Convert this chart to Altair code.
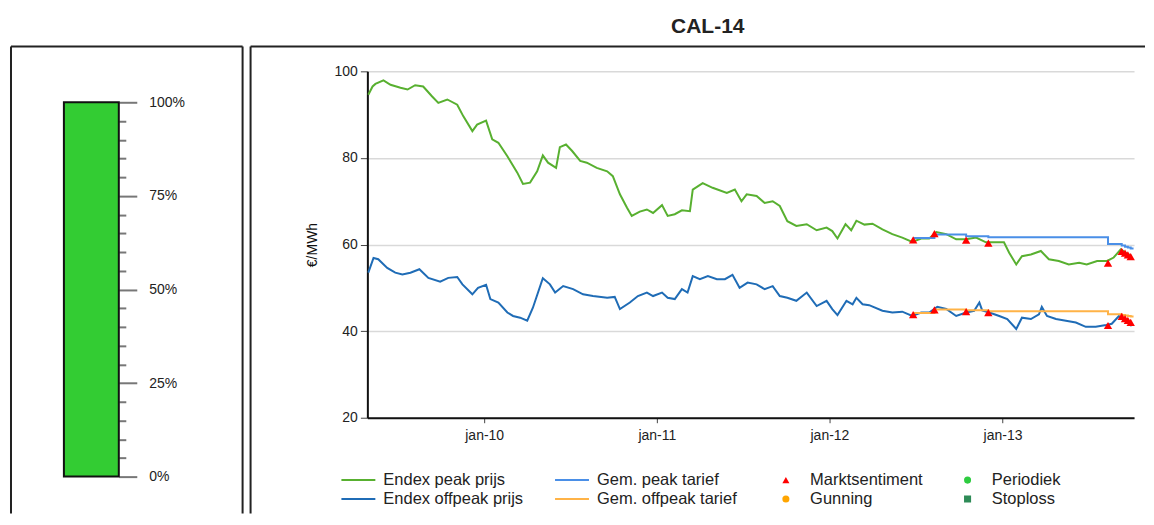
import altair as alt
import pandas as pd

FONT = "Liberation Sans"

# ---------------- data ----------------
peak_dates = ["2009-05-01","2009-05-10","2009-05-16","2009-06-02","2009-06-17","2009-07-08","2009-07-23","2009-08-08","2009-08-25","2009-09-13","2009-09-26","2009-10-15","2009-11-05","2009-11-18","2009-12-07","2009-12-17",
              "2010-01-05","2010-01-18","2010-01-31","2010-02-19","2010-03-12","2010-03-24","2010-04-08","2010-04-23","2010-05-05","2010-05-16","2010-06-02","2010-06-10","2010-06-23","2010-07-06","2010-07-23","2010-08-06","2010-08-27","2010-09-18","2010-09-30","2010-10-15","2010-10-30","2010-11-09","2010-11-26","2010-12-11","2010-12-24",
              "2011-01-12","2011-01-24","2011-02-08","2011-02-23","2011-03-12","2011-03-18","2011-04-08","2011-04-29","2011-05-29","2011-06-15","2011-06-29","2011-07-10","2011-07-31","2011-08-17","2011-09-03","2011-09-18","2011-10-04","2011-10-23","2011-11-14","2011-12-05","2011-12-26",
              "2012-01-07","2012-01-18","2012-02-04","2012-02-16","2012-02-27","2012-03-15","2012-04-01","2012-04-22","2012-05-13","2012-06-03","2012-06-24","2012-07-13","2012-07-30","2012-08-14","2012-09-04","2012-09-25","2012-10-16","2012-11-06","2012-11-27","2012-12-18",
              "2013-01-04","2013-01-15","2013-01-30","2013-02-11","2013-03-02","2013-03-23","2013-04-09","2013-04-30","2013-05-21","2013-06-12","2013-06-28","2013-07-20","2013-08-10","2013-08-24","2013-09-08","2013-09-19","2013-10-01"]
peak_vals = [94.6,96.5,97.1,97.9,96.9,96.2,95.8,96.8,96.5,94.2,92.7,93.5,92.3,89.6,86.2,87.7,
             88.6,84.3,83.5,80.4,76.6,74.0,74.3,76.9,80.6,78.9,77.7,82.5,83.1,81.6,79.3,78.9,77.7,76.9,75.8,71.6,68.5,66.6,67.6,68.1,67.3,
             69.1,66.6,67.0,67.9,67.7,72.7,74.2,73.1,71.9,72.7,70.0,71.6,71.2,69.6,70.0,68.9,65.4,64.3,64.7,63.3,63.9,
             63.1,61.4,64.7,63.3,65.5,64.6,64.8,63.5,62.4,61.6,60.6,61.4,61.4,62.9,62.4,61.2,61.2,61.6,60.5,60.5,
             60.5,58.1,55.4,57.3,57.7,58.5,56.6,56.2,55.4,55.8,55.4,56.2,56.2,57.0,58.9,58.1,57.3]

offpeak_dates = ["2009-05-01","2009-05-12","2009-05-22","2009-06-10","2009-06-27","2009-07-12","2009-07-29","2009-08-17","2009-09-05","2009-09-30","2009-10-17","2009-11-05","2009-11-16","2009-12-07","2009-12-19",
                 "2010-01-05","2010-01-14","2010-01-31","2010-02-19","2010-03-03","2010-03-18","2010-04-02","2010-04-14","2010-05-05","2010-05-20","2010-05-31","2010-06-17","2010-07-08","2010-07-29","2010-08-19","2010-09-18","2010-10-04","2010-10-15","2010-11-05","2010-11-22","2010-12-11","2010-12-24",
                 "2011-01-12","2011-01-24","2011-02-08","2011-02-23","2011-03-07","2011-03-18","2011-04-02","2011-04-19","2011-05-08","2011-05-25","2011-06-10","2011-06-25","2011-07-12","2011-07-31","2011-08-17","2011-09-03","2011-09-18","2011-10-04","2011-10-23","2011-11-14","2011-12-05","2011-12-26",
                 "2012-01-07","2012-01-18","2012-02-06","2012-02-19","2012-02-27","2012-03-11","2012-03-25","2012-04-22","2012-05-13","2012-06-03","2012-06-24","2012-07-13","2012-07-30","2012-08-16","2012-09-04","2012-09-25","2012-10-16","2012-11-02","2012-11-13","2012-11-19","2012-12-04","2012-12-25",
                 "2013-01-11","2013-01-30","2013-02-11","2013-03-02","2013-03-19","2013-03-25","2013-04-05","2013-04-24","2013-05-15","2013-06-05","2013-06-26","2013-07-17","2013-08-08","2013-08-20","2013-09-04","2013-09-19","2013-10-01"]
offpeak_vals = [53.5,56.9,56.6,54.6,53.5,53.1,53.5,54.3,52.3,51.4,52.3,52.5,50.8,48.5,50.0,
                50.7,47.4,46.6,44.3,43.5,43.1,42.4,45.4,52.2,50.8,48.9,50.4,49.7,48.5,48.1,47.7,47.9,45.1,46.6,48.1,48.9,48.1,
                48.9,47.7,47.4,49.7,48.9,52.7,52.0,52.7,52.0,52.0,53.0,50.0,51.2,50.8,49.7,50.4,48.1,47.7,47.0,48.9,45.8,47.0,
                45.1,43.7,47.0,46.2,47.7,46.2,46.0,44.7,44.3,44.5,43.5,44.3,44.3,45.6,45.1,43.5,44.3,44.7,46.6,44.8,44.3,43.5,
                42.8,40.5,43.1,42.8,43.9,45.6,43.5,42.8,42.4,42.0,41.0,41.0,41.4,41.7,43.5,42.4,41.2]

tarief_dates = ["2012-06-26","2012-08-10","2012-10-16","2012-12-02","2013-08-12","2013-09-10","2013-09-17","2013-09-23","2013-09-29","2013-10-05"]
peak_tarief_vals = [61.5,62.3,61.9,61.7,60.1,59.8,59.5,59.3,59.1,59.1]
offpeak_tarief_vals = [44.2,45.0,44.8,44.6,43.9,43.7,43.6,43.5,43.4,43.4]

signal_dates = ["2012-06-26","2012-08-10","2012-10-16","2012-12-02","2013-08-12","2013-09-10","2013-09-17","2013-09-23","2013-09-29"]
signal_peak_vals = [61.1,62.5,61.0,60.3,55.7,58.4,58.0,57.6,57.2]
signal_offpeak_vals = [43.8,44.9,44.5,44.3,41.3,43.4,42.9,42.5,42.0]

gauge_pct = [100]
gauge_ticks = list(range(0, 101, 5))

# legend entries run down the columns: first column, then second column
line_series = ["Endex peak prijs", "Endex offpeak prijs", "Gem. peak tarief", "Gem. offpeak  tarief"]
line_colors = ["#58B030", "#1F6CB6", "#4A8FE7", "#FFB347"]
signal_types = ["Marktsentiment", "Gunning", "Periodiek", "Stoploss"]
signal_colors = ["#FF0000", "#FFA500", "#2ECC40", "#2E8B57"]
signal_shapes = ["triangle-up", "circle", "circle", "square"]
year_ticks = [2010, 2011, 2012, 2013]

# ---------------- tables ----------------
endex_df = pd.concat([
    pd.DataFrame({"datum": pd.to_datetime(peak_dates), "waarde": peak_vals, "reeks": line_series[0]}),
    pd.DataFrame({"datum": pd.to_datetime(offpeak_dates), "waarde": offpeak_vals, "reeks": line_series[1]}),
])
tarief_df = pd.concat([
    pd.DataFrame({"datum": pd.to_datetime(tarief_dates), "waarde": peak_tarief_vals, "reeks": line_series[2]}),
    pd.DataFrame({"datum": pd.to_datetime(tarief_dates), "waarde": offpeak_tarief_vals, "reeks": line_series[3]}),
])
sig_df = pd.concat([
    pd.DataFrame({"datum": pd.to_datetime(signal_dates), "waarde": signal_peak_vals, "signaal": signal_types[0]}),
    pd.DataFrame({"datum": pd.to_datetime(signal_dates), "waarde": signal_offpeak_vals, "signaal": signal_types[0]}),
])
gauge_df = pd.DataFrame({"pct": gauge_pct})
one = pd.DataFrame({"k": [0]})

BORDER = "#222222"

# ---------------- left panel (gauge) ----------------
gauge_axis = alt.Axis(
    orient="right", values=gauge_ticks, domain=False, grid=False, title=None,
    tickSize={"condition": {"test": "datum.value % 25 === 0", "value": 18}, "value": 7},
    tickColor="#777777", tickWidth=2,
    labelExpr="datum.value % 25 === 0 ? datum.value + '%' : ''",
    labelPadding=12, labelFontSize=14, labelColor="#222222", labelFont=FONT,
)
bar = alt.Chart(gauge_df).mark_bar(color="#33CC33", stroke="#111111", strokeWidth=2).encode(
    x=alt.value(0), x2=alt.value(55),
    y=alt.Y("pct:Q", scale=alt.Scale(domain=[0, 108.27], nice=False), axis=gauge_axis),
    y2=alt.datum(0),
)
l_left = alt.Chart(one).mark_rule(color=BORDER, strokeWidth=2).encode(x=alt.value(-53), y=alt.value(-25), y2=alt.value(443))
l_right = alt.Chart(one).mark_rule(color=BORDER, strokeWidth=2).encode(x=alt.value(179), y=alt.value(-25), y2=alt.value(443))
l_top = alt.Chart(one).mark_rule(color=BORDER, strokeWidth=2).encode(x=alt.value(-53), x2=alt.value(179), y=alt.value(-25))
left = alt.layer(bar, l_left, l_right, l_top).properties(width=55, height=406)

# ---------------- right panel (prices) ----------------
x_enc = alt.X(
    "datum:T", title=None,
    scale=alt.Scale(domain=[alt.DateTime(year=2009, month=4, date=29), alt.DateTime(year=2013, month=10, date=6)]),
    axis=alt.Axis(values=[alt.DateTime(year=y, month=1, date=1) for y in year_ticks],
                  labelExpr="'jan-' + timeFormat(datum.value, '%y')",
                  grid=False, domainColor="#111111", domainWidth=2, tickColor="#444444", tickSize=5,
                  labelFontSize=14, labelPadding=6, labelColor="#222222", labelFont=FONT),
)
y_enc = alt.Y(
    "waarde:Q", scale=alt.Scale(domain=[20, 100]),
    axis=alt.Axis(values=[20, 40, 60, 80, 100], title="€/MWh", titleFontSize=14, titleFontWeight="normal",
                  titleColor="#111111", titlePadding=15, titleFont=FONT,
                  domainColor="#111111", domainWidth=2, tickColor="#444444", tickSize=7,
                  gridColor="#D9D9D9", gridWidth=1.5,
                  labelFontSize=14, labelPadding=3, labelColor="#222222", labelFont=FONT),
)
line_scale = alt.Scale(domain=line_series, range=line_colors)
line_legend = alt.Legend(title=None, orient="none", legendX=-27, legendY=400, columns=2,
                         symbolType="stroke", symbolSize=1156, symbolStrokeWidth=2,
                         clipHeight=19, rowPadding=0, columnPadding=30, labelOffset=7,
                         labelFontSize=16.5, labelFont=FONT, labelColor="#222222", labelLimit=400, padding=0)
endex = alt.Chart(endex_df).mark_line(strokeWidth=2).encode(
    x=x_enc, y=y_enc, color=alt.Color("reeks:N", scale=line_scale, legend=line_legend))
tarief = alt.Chart(tarief_df).mark_line(strokeWidth=2, interpolate="step-after").encode(
    x="datum:T", y="waarde:Q", color=alt.Color("reeks:N", scale=line_scale, legend=line_legend))
lines = alt.layer(endex, tarief)

sig_legend = alt.Legend(title=None, orient="none", legendX=411, legendY=400, columns=2,
                        symbolSize=50, symbolStrokeWidth=0,
                        clipHeight=19, rowPadding=0, columnPadding=36, labelOffset=16,
                        labelFontSize=16.5, labelFont=FONT, labelColor="#222222", labelLimit=400, padding=0)
points = alt.Chart(sig_df).mark_point(filled=True, size=70, opacity=1).encode(
    x="datum:T", y="waarde:Q",
    color=alt.Color("signaal:N", scale=alt.Scale(domain=signal_types, range=signal_colors), legend=sig_legend),
    shape=alt.Shape("signaal:N", scale=alt.Scale(domain=signal_types, range=signal_shapes), legend=sig_legend),
)
r_left = alt.Chart(one).mark_rule(color=BORDER, strokeWidth=2).encode(x=alt.value(-117), y=alt.value(-25), y2=alt.value(443))
r_top = alt.Chart(one).mark_rule(color=BORDER, strokeWidth=2).encode(x=alt.value(-117), x2=alt.value(779), y=alt.value(-25))

right = alt.layer(lines, points, r_left, r_top).resolve_scale(
    color="independent", shape="independent").properties(width=768, height=347)

chart = alt.hconcat(left, right, spacing=6).properties(
    title=alt.TitleParams("CAL-14", fontSize=21, fontWeight="bold", font=FONT, color="#222222",
                          anchor="middle", dx=130, offset=8),
    padding={"left": 2, "top": 8, "right": 0, "bottom": 0},
).configure(font=FONT).configure_view(stroke=None)

chart.save("out.html", embed_options={"renderer": "svg", "actions": False})
